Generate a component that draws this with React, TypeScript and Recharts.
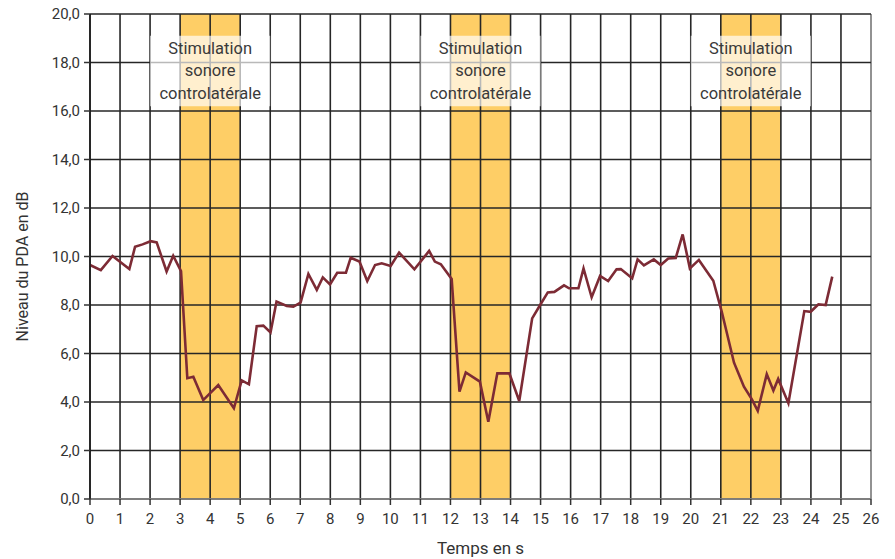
import React from "react";
import {
  Label,
  Line,
  LineChart,
  ReferenceArea,
  ReferenceLine,
  XAxis,
  YAxis,
} from "recharts";

// Temps (s) et niveau du PDA (dB).
const times = [
  0, 0.36, 0.75, 1.31, 1.5, 1.75, 2.02, 2.22, 2.55, 2.77, 3.03, 3.24, 3.44,
  3.77, 4.27, 4.79, 5.05, 5.29, 5.55, 5.77, 6.01, 6.21, 6.55, 6.77, 7.01, 7.27,
  7.55, 7.75, 7.99, 8.23, 8.52, 8.68, 8.97, 9.23, 9.49, 9.71, 10.01, 10.29,
  10.8, 11.29, 11.48, 11.68, 12.04, 12.3, 12.51, 12.98, 13.26, 13.56, 13.96,
  14.29, 14.72, 15.0, 15.24, 15.46, 15.78, 15.95, 16.26, 16.43, 16.7, 16.98,
  17.25, 17.53, 17.67, 18.05, 18.23, 18.44, 18.77, 19.0, 19.25, 19.5, 19.73,
  19.97, 20.27, 20.75, 21.03, 21.44, 21.77, 22.03, 22.23, 22.53, 22.75, 22.91,
  23.25, 23.78, 23.99, 24.25, 24.49, 24.71,
];
const levels = [
  9.65, 9.44, 10.02, 9.48, 10.4, 10.5, 10.63, 10.58, 9.38, 10.03, 9.4, 4.98,
  5.04, 4.08, 4.7, 3.74, 4.89, 4.73, 7.13, 7.15, 6.87, 8.14, 7.96, 7.93, 8.1,
  9.28, 8.62, 9.14, 8.85, 9.33, 9.33, 9.95, 9.79, 8.99, 9.65, 9.72, 9.61,
  10.16, 9.47, 10.23, 9.79, 9.68, 9.07, 4.43, 5.22, 4.84, 3.19, 5.18, 5.18,
  4.04, 7.45, 8.03, 8.52, 8.54, 8.81, 8.69, 8.69, 9.51, 8.32, 9.2, 8.99, 9.47,
  9.48, 9.1, 9.88, 9.63, 9.88, 9.65, 9.92, 9.94, 10.91, 9.51, 9.86, 9.0, 7.73,
  5.62, 4.63, 4.12, 3.64, 5.15, 4.47, 4.95, 3.95, 7.75, 7.72, 8.03, 8.0, 9.17,
];

// Périodes de stimulation sonore controlatérale [début, fin] en s
const stimulations = [
  [3, 5],
  [12, 14],
  [21, 23],
];
const stimulationLabel = ["Stimulation", "sonore", "controlatérale"];

const xTicks = Array.from({ length: 27 }, (_, i) => i);
const yTicks = [0, 2, 4, 6, 8, 10, 12, 14, 16, 18, 20];

const data = times.map((t, i) => ({ t, v: levels[i] }));

const FONT = "Roboto, 'Liberation Sans', sans-serif";
const TEXT = "#333";
const GRID = "#262626";

function BoxLabel(props: any) {
  const vb = props.viewBox || {};
  const cx = vb.x + vb.width / 2;
  return (
    <g>
      {stimulationLabel.map((line, i) => (
        <text
          key={line}
          x={cx}
          y={vb.y + 18 + i * 22.5}
          textAnchor="middle"
          fontFamily={FONT}
          fontSize={16.5}
          fill="#3a3a3a"
        >
          {line}
        </text>
      ))}
    </g>
  );
}

function YTitle(props: any) {
  const vb = props.viewBox || {};
  const cy = vb.y + vb.height / 2 + 10;
  return (
    <text
      x={22}
      y={cy}
      transform={`rotate(-90 22 ${cy})`}
      textAnchor="middle"
      dominantBaseline="central"
      fontFamily={FONT}
      fontSize={16}
      fill={TEXT}
    >
      Niveau du PDA en dB
    </text>
  );
}

export default function App() {
  return (
    <div style={{ width: 895, height: 559, background: "#fff" }}>
      <style>{`body{margin:0}`}</style>
      <LineChart
        width={895}
        height={559}
        data={data}
        margin={{ top: 14, right: 24, bottom: 0, left: 0 }}
      >
        <XAxis
          type="number"
          dataKey="t"
          domain={[0, 26]}
          ticks={xTicks}
          interval={0}
          height={60}
          tickSize={6}
          tickMargin={8}
          axisLine={{ stroke: "#777", strokeWidth: 1.5 }}
          tickLine={{ stroke: "#333", strokeWidth: 1.5 }}
          tick={{ fill: TEXT, fontSize: 15, fontFamily: FONT }}
        >
          <Label
            value="Temps en s"
            position="insideBottom"
            offset={5}
            style={{ fill: TEXT, fontSize: 17, fontFamily: FONT }}
          />
        </XAxis>
        <YAxis
          type="number"
          domain={[0, 20]}
          ticks={yTicks}
          interval={0}
          width={90}
          tickSize={6}
          tickMargin={4}
          tickFormatter={(v: number) => v.toFixed(1).replace(".", ",")}
          axisLine={{ stroke: "#1a1a1a", strokeWidth: 1.5 }}
          tickLine={{ stroke: "#333", strokeWidth: 1.5 }}
          tick={{ fill: TEXT, fontSize: 15, fontFamily: FONT }}
        >
          <Label content={<YTitle />} />
        </YAxis>

        {stimulations.map(([a, b]) => (
          <ReferenceArea
            key={"band" + a}
            x1={a}
            x2={b}
            y1={0}
            y2={20}
            fill="#FECE66"
            fillOpacity={1}
            stroke="none"
            zIndex={10}
          />
        ))}

        {xTicks.map((x) => (
          <ReferenceLine
            key={"vx" + x}
            x={x}
            stroke={x === 26 ? "#777" : GRID}
            strokeWidth={1.6}
            zIndex={20}
          />
        ))}
        {yTicks.map((y) => (
          <ReferenceLine
            key={"hy" + y}
            y={y}
            stroke={y === 0 ? "#777" : GRID}
            strokeWidth={1.6}
            zIndex={20}
          />
        ))}

        {stimulations.map(([a, b]) => (
          <ReferenceArea
            key={"box" + a}
            x1={a - 1}
            x2={b + 1}
            y1={16.2}
            y2={19.1}
            fill="#fff"
            fillOpacity={0.68}
            stroke="none"
            zIndex={30}
            label={<BoxLabel />}
          />
        ))}

        <Line
          type="linear"
          dataKey="v"
          stroke="#7D2B35"
          strokeWidth={2.6}
          dot={false}
          activeDot={false}
          isAnimationActive={false}
          zIndex={40}
        />
      </LineChart>
    </div>
  );
}
